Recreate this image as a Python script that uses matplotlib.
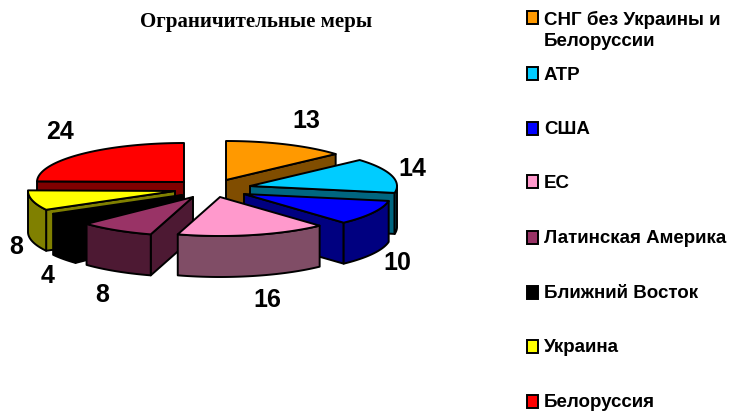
import numpy as np
import matplotlib
matplotlib.use("Agg")
from matplotlib import pyplot as plt
from matplotlib.patches import Polygon, Rectangle

title = "Ограничительные меры"
labels = ["СНГ без Украины и\nБелоруссии", "АТР", "США", "ЕС",
          "Латинская Америка", "Ближний Восток", "Украина", "Белоруссия"]
values = [13, 14, 10, 16, 8, 4, 8, 24]
colors = ["#FF9900", "#00CCFF", "#0000FF", "#FF99CC",
          "#993366", "#000000", "#FFFF00", "#FF0000"]
sides = ["#804D00", "#006680", "#000080", "#804D66",
         "#4D1933", "#000000", "#808000", "#800000"]

# layout, figure pixels
cx, cy = 207, 190
rx, ry = 147, 39
depth = 41
shift_x = [19, 43, 37, 13, -14, -25, -32, -23]
shift_y = [-10, -4, 4, 7, 7, 5, 1, -8]
draw_order = [0, 7, 1, 6, 2, 5, 4, 3]
value_pos = [(306, 121), (412, 169), (397, 263), (267, 300),
             (102, 295), (48, 276), (16, 247), (60, 132)]
legend_y = [18, 74, 128, 182, 237, 292, 346, 401]

plt.rcParams["font.family"] = ["Liberation Sans", "DejaVu Sans"]
fig = plt.figure(figsize=(7.31, 4.11), dpi=100)
ax = fig.add_axes([0, 0, 1, 1])
ax.set_xlim(0, 731)
ax.set_ylim(411, 0)
ax.axis("off")


def rim(x0, y0, a1, a2):
    # points of the rim, angles clockwise from the top
    t = np.radians(np.linspace(a1, a2, max(2, int(abs(a2 - a1)) + 2)))
    return np.column_stack([x0 + rx * np.sin(t), y0 - ry * np.cos(t)])


def face(pts, color, z):
    ax.add_patch(Polygon(pts, closed=True, facecolor=color, edgecolor="black",
                         linewidth=1.4, joinstyle="round", zorder=z))


edges = np.cumsum([0] + values) / sum(values) * 360
z = 1
for i in draw_order:
    a1, a2 = edges[i], edges[i + 1]
    x0, y0 = cx + shift_x[i], cy + shift_y[i]
    apex = np.array([[x0, y0]])
    down = np.array([0, depth])
    # cut faces turned to the viewer
    if np.sin(np.radians(a2)) > 0.01:
        p = rim(x0, y0, a2, a2)[:1]
        face(np.vstack([apex, p, p + down, apex + down]), sides[i], z)
    if np.sin(np.radians(a1)) < -0.01:
        p = rim(x0, y0, a1, a1)[:1]
        face(np.vstack([apex, p, p + down, apex + down]), sides[i], z)
    # outer wall, front half only
    lo, hi = max(a1, 90), min(a2, 270)
    if hi > lo:
        arc = rim(x0, y0, lo, hi)
        face(np.vstack([arc, arc[::-1] + down]), sides[i], z)
    # top
    face(np.vstack([apex, rim(x0, y0, a1, a2)]), colors[i], z)
    z += 1

for v, (x, y) in zip(values, value_pos):
    ax.text(x, y, str(v), fontsize=18, fontweight="bold", ha="center", va="center", zorder=20)

ax.text(256, 22, title, family="Liberation Serif", fontsize=15, fontweight="bold",
        ha="center", va="center")

for lab, col, y in zip(labels, colors, legend_y):
    ax.add_patch(Rectangle((526.5, y - 6.5), 11.5, 13, facecolor=col, edgecolor="black", linewidth=1.4))
    n = lab.count("\n")
    ax.text(544, y + 1 + n * 11.5, lab, fontsize=13.5, fontweight="bold", ha="left", va="center", linespacing=1.25)

fig.savefig("out.png", dpi=100)
